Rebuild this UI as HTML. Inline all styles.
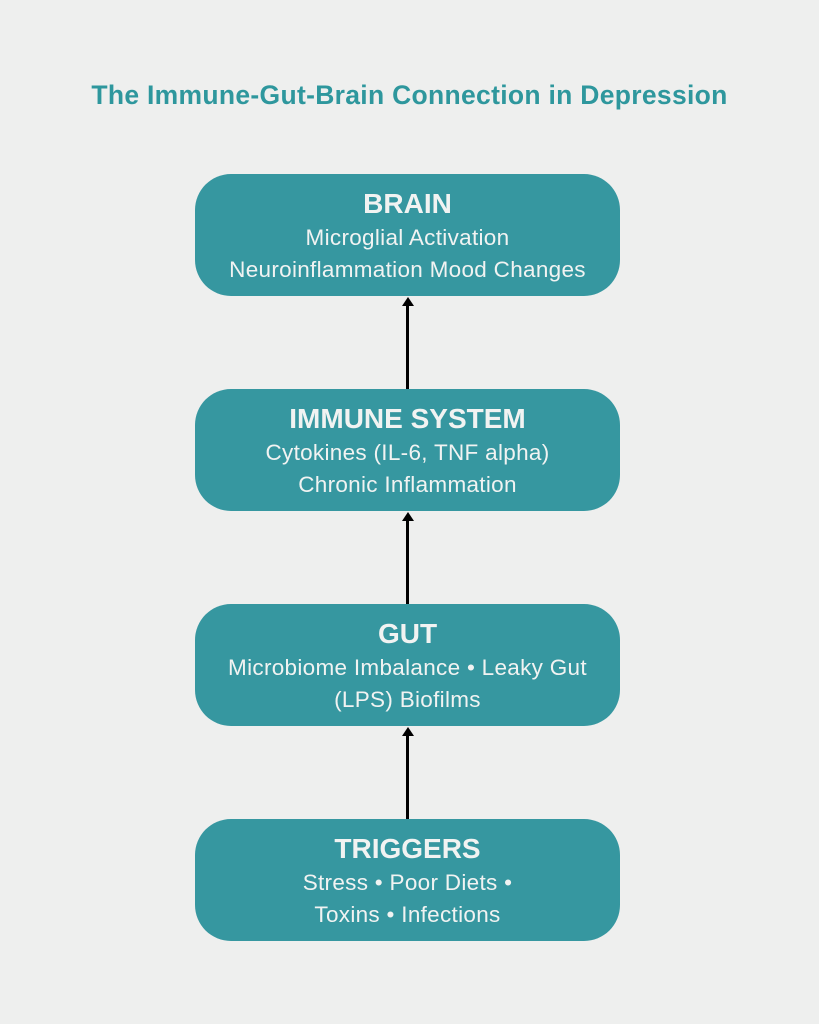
<!DOCTYPE html>
<html><head><style>
body{margin:0;width:819px;height:1024px;background:#eeefee;position:relative;font-family:"Liberation Sans",sans-serif;overflow:hidden}
.t{position:absolute;left:0;width:819px;text-align:center;top:80px;font-size:26.5px;font-weight:bold;color:#2e979d;letter-spacing:0.3px}
.b{position:absolute;left:195px;width:425px;height:122px;border-radius:36px;background:#3697a0;color:#f1f3f2;text-align:center}
.b h{display:block;font-size:28px;font-weight:bold;margin-top:14px;margin-bottom:2px;line-height:32px}
.b p{margin:0;font-size:22.5px;line-height:32px;letter-spacing:0.3px}
.a{position:absolute;left:406px;width:3px;background:#000}
.h{position:absolute;left:402px;width:0;height:0;border-left:6px solid transparent;border-right:6px solid transparent;border-bottom:9px solid #000}
</style></head><body>
<div class="t">The Immune-Gut-Brain Connection in Depression</div>
<div class="b" style="top:174px"><h>BRAIN</h><p>Microglial Activation</p><p>Neuroinflammation Mood Changes</p></div>
<div class="b" style="top:389px"><h>IMMUNE SYSTEM</h><p>Cytokines (IL-6, TNF alpha)</p><p>Chronic Inflammation</p></div>
<div class="b" style="top:604px"><h>GUT</h><p>Microbiome Imbalance • Leaky Gut</p><p>(LPS) Biofilms</p></div>
<div class="b" style="top:819px"><h>TRIGGERS</h><p>Stress • Poor Diets •</p><p>Toxins • Infections</p></div>
<div class="h" style="top:297px"></div><div class="a" style="top:304px;height:85px"></div>
<div class="h" style="top:512px"></div><div class="a" style="top:519px;height:85px"></div>
<div class="h" style="top:727px"></div><div class="a" style="top:734px;height:85px"></div>
</body></html>
